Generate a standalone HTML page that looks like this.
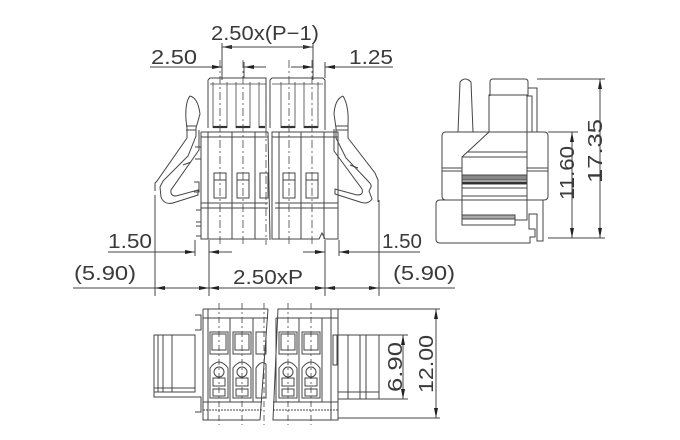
<!DOCTYPE html>
<html><head><meta charset="utf-8"><style>
html,body{margin:0;padding:0;background:#fff;}
svg{display:block;}
text{font-family:"Liberation Sans",sans-serif;fill:#3a3a3a;font-size:20px;}
</style></head><body>
<svg width="680" height="440" viewBox="0 0 680 440" xmlns="http://www.w3.org/2000/svg">
<defs>
<marker id="a" markerWidth="10" markerHeight="6" refX="10" refY="3" orient="auto" markerUnits="userSpaceOnUse"><path d="M0,1 L10,3 L0,5z" fill="#222"/></marker>
</defs>
<g stroke="#444" stroke-width="1" fill="none">
<!-- ===== top dimensions ===== -->
<line x1="222" y1="43" x2="222" y2="80"/><line x1="313" y1="43" x2="313" y2="80"/>
<line x1="240" y1="47" x2="222" y2="47" marker-end="url(#a)"/><line x1="295" y1="47" x2="313" y2="47" marker-end="url(#a)"/>
<line x1="222" y1="47" x2="313" y2="47"/>
<line x1="150" y1="67" x2="222" y2="67" marker-end="url(#a)"/>
<line x1="244" y1="62" x2="244" y2="78"/>
<line x1="266" y1="67" x2="244" y2="67" marker-end="url(#a)"/>
<line x1="291" y1="67" x2="313" y2="67" marker-end="url(#a)"/>
<line x1="325" y1="62" x2="325" y2="78"/>
<line x1="393" y1="67" x2="325" y2="67" marker-end="url(#a)"/>
<!-- ===== front view ===== -->
<path d="M208,80 l2,-2 h56 v50 M270,128 v-48 l2,-2 h51 l2,2 v50"/>
<path d="M208,80 v48 M325,80 v48"/>
<g stroke-width="0.8">
<line x1="213" y1="82" x2="213" y2="128"/><line x1="227" y1="82" x2="227" y2="128"/>
<line x1="236" y1="82" x2="236" y2="128"/><line x1="250" y1="82" x2="250" y2="128"/>
<line x1="259" y1="82" x2="259" y2="128"/>
<line x1="281" y1="82" x2="281" y2="128"/><line x1="295" y1="82" x2="295" y2="128"/>
<line x1="304" y1="82" x2="304" y2="128"/><line x1="318" y1="82" x2="318" y2="128"/>
<path d="M210,84 h56 M272,84 h51"/>
</g>
<g stroke-width="2.2" stroke="#333">
<line x1="213" y1="127" x2="227" y2="127"/><line x1="236" y1="127" x2="250" y2="127"/><line x1="259" y1="127" x2="265" y2="127"/>
<line x1="281" y1="127" x2="295" y2="127"/><line x1="304" y1="127" x2="318" y2="127"/>
</g>
<!-- body -->
<path d="M201,132 h67 M268,132 l2,108 M201,132 v107 h67"/>
<path d="M272,132 h66 v107 h-13 l-3,-6 l-3,6 h-47 z"/>
<line x1="201" y1="137" x2="268" y2="137"/><line x1="272" y1="137" x2="338" y2="137"/>
<line x1="201" y1="203" x2="268" y2="203"/><line x1="275" y1="203" x2="338" y2="203"/>
<line x1="201" y1="208" x2="268" y2="208"/><line x1="275" y1="208" x2="338" y2="208"/>
<line x1="208" y1="132" x2="208" y2="239"/>
<line x1="232" y1="132" x2="232" y2="239"/><line x1="255" y1="132" x2="255" y2="239"/>
<line x1="279" y1="132" x2="279" y2="239"/><line x1="301" y1="132" x2="301" y2="239"/>
<line x1="324" y1="132" x2="324" y2="239"/>
<rect x="214" y="173" width="12" height="25"/><rect x="237" y="173" width="12" height="25"/><rect x="260" y="173" width="8" height="25"/>
<rect x="283" y="173" width="12" height="25"/><rect x="306" y="173" width="12" height="25"/>
<line x1="214" y1="180" x2="226" y2="180"/><line x1="237" y1="180" x2="249" y2="180"/><line x1="283" y1="180" x2="295" y2="180"/><line x1="306" y1="180" x2="318" y2="180"/>
<g stroke-dasharray="8,3,2,3" stroke-width="0.8">
<line x1="220" y1="60" x2="220" y2="245"/><line x1="243" y1="60" x2="243" y2="245"/><line x1="266" y1="80" x2="266" y2="245"/>
<line x1="289" y1="60" x2="289" y2="245"/><line x1="312" y1="60" x2="312" y2="245"/>
</g>
<!-- left arm -->
<path d="M190,96 q8,2 10,18 l-4,14 v8 l-8,20 l-25,25 l-3,6 l1,10 q3,8 12,6 l25,-8 v-5 l-22,6 q-6,0 -5,-6 l28,-40 v-20"/>
<path d="M190,96 q-5,6 -4,24 l1,8 v10 l-30,43 l-2,2 v8"/>
<path d="M186,126 h10 M186,130 h10 M183,165 l8,-3"/>
<path d="M195,147 h6 v12 h-6 M194,182 h5 v10 h-5 M196,210 h5 v12 h-5 M196,226 h5 v10 h-5"/>
<!-- right arm -->
<path d="M343,96 q-8,3 -9,18 l2,14 v10 l10,20 l22,23 q4,4 3,6 l-2,4 l3,8 q-4,6 -12,3 l-25,-8 v-5 l22,6 q7,0 5,-6 l-28,-38 v-22"/>
<path d="M343,96 q6,10 5,28 v14 l27,35 l3,7 v22"/>
<path d="M336,126 h12 M336,130 h12 M350,165 l8,3"/>
<!-- bottom dims -->
<line x1="155" y1="195" x2="155" y2="296"/><line x1="209" y1="240" x2="209" y2="296"/>
<line x1="325" y1="240" x2="325" y2="296"/><line x1="379" y1="200" x2="379" y2="296"/>
<line x1="195" y1="240" x2="195" y2="256"/><line x1="339" y1="240" x2="339" y2="256"/>
<line x1="108" y1="252" x2="195" y2="252" marker-end="url(#a)"/>
<line x1="232" y1="252" x2="209" y2="252" marker-end="url(#a)"/>
<line x1="303" y1="252" x2="325" y2="252" marker-end="url(#a)"/>
<line x1="420" y1="252" x2="339" y2="252" marker-end="url(#a)"/>
<line x1="73" y1="288" x2="455" y2="288"/>
<line x1="180" y1="288" x2="155" y2="288" marker-end="url(#a)"/><line x1="185" y1="288" x2="209" y2="288" marker-end="url(#a)"/>
<line x1="230" y1="288" x2="209" y2="288" marker-end="url(#a)"/><line x1="300" y1="288" x2="325" y2="288" marker-end="url(#a)"/>
<line x1="350" y1="288" x2="325" y2="288" marker-end="url(#a)"/><line x1="355" y1="288" x2="379" y2="288" marker-end="url(#a)"/>
<!-- ===== side view ===== -->
<path d="M458,132 l2,-50 q5,-6 11,0 l2,50"/>
<path d="M490,96 v-14 q0,-3 3,-3 h32 q3,0 3,3 v6 h9 v44"/>
<path d="M528,88 v8 h4 v36"/>
<path d="M489,132 v-37 h38 v37"/>
<path d="M446,132 h98 q4,0 4,4 v60 q0,4 -4,4 h-98 q-4,0 -4,-4 v-60 q0,-4 4,-4z"/>
<path d="M440,200 h90 M440,200 q-4,0 -4,4 v35 q0,4 4,4 h90 v-6 h5 v-8 h-6 v-15 h8 v27 h6 v-41"/>
<path d="M489,132 l-27,25 v68 h53 v-5 h12 v-88"/>
<line x1="462" y1="157" x2="527" y2="157"/><line x1="468" y1="152" x2="527" y2="152"/>
<line x1="442" y1="168" x2="462" y2="168"/><line x1="527" y1="168" x2="548" y2="168"/>
<line x1="442" y1="171" x2="462" y2="171"/><line x1="527" y1="171" x2="548" y2="171"/>
<rect x="462" y="175" width="65" height="5" fill="#888"/>
<rect x="462" y="182" width="65" height="2" fill="#222"/>
<line x1="462" y1="188" x2="527" y2="188"/><line x1="462" y1="196" x2="527" y2="196"/>
<rect x="462" y="215" width="53" height="4" fill="#aaa"/>
<line x1="537" y1="79" x2="605" y2="79"/><line x1="548" y1="132" x2="578" y2="132"/>
<line x1="548" y1="238" x2="605" y2="238"/>
<line x1="572" y1="185" x2="572" y2="132" marker-end="url(#a)"/><line x1="572" y1="185" x2="572" y2="238" marker-end="url(#a)"/>
<line x1="600" y1="160" x2="600" y2="79" marker-end="url(#a)"/><line x1="600" y1="160" x2="600" y2="238" marker-end="url(#a)"/>
<!-- ===== bottom view ===== -->
<path d="M203,309 h65 M268,309 l-8,111 M203,309 v111 h57"/>
<path d="M278,309 h60 v111 h-65 z"/>
<line x1="208" y1="309" x2="208" y2="420"/><line x1="331" y1="309" x2="331" y2="420"/>
<line x1="203" y1="318" x2="268" y2="318"/><line x1="276" y1="318" x2="338" y2="318"/>
<line x1="203" y1="402" x2="262" y2="402"/><line x1="273" y1="402" x2="338" y2="402"/>
<line x1="203" y1="410" x2="262" y2="410" stroke-dasharray="2,1"/><line x1="273" y1="410" x2="338" y2="410" stroke-dasharray="2,1"/>
<line x1="230" y1="318" x2="230" y2="402"/><line x1="253" y1="318" x2="253" y2="402"/>
<line x1="276" y1="318" x2="276" y2="402"/><line x1="299" y1="318" x2="299" y2="402"/><line x1="322" y1="318" x2="322" y2="402"/>
<g id="cell">
<rect x="210" y="332" width="18" height="22"/><rect x="212" y="334" width="14" height="16"/>
<path d="M210,368 q9,-12 18,0 v30 h-18 z"/>
<circle cx="219" cy="372" r="5"/><rect x="213" y="378" width="12" height="8"/><rect x="213" y="389" width="12" height="7"/>
</g>
<use href="#cell" x="23"/><use href="#cell" x="69"/><use href="#cell" x="92"/>
<rect x="256" y="332" width="10" height="22"/><path d="M256,368 q5,-8 10,-4 v34 h-10z"/>
<rect x="333" y="335" width="4" height="30"/>
<g stroke-dasharray="6,3,2,3" stroke-width="0.8">
<line x1="219" y1="303" x2="219" y2="425"/><line x1="242" y1="303" x2="242" y2="425"/><line x1="264" y1="303" x2="264" y2="425"/>
<line x1="288" y1="303" x2="288" y2="425"/><line x1="311" y1="303" x2="311" y2="425"/>
</g>
<rect x="154" y="335" width="41" height="57"/>
<line x1="158" y1="335" x2="158" y2="392"/><line x1="163" y1="335" x2="163" y2="392"/><line x1="172" y1="335" x2="172" y2="392"/>
<line x1="154" y1="388" x2="195" y2="388"/>
<path d="M154,392 v5 h41 M195,315 h6 v15 h-6 M195,397 h6 v15 h-6"/>
<rect x="338" y="335" width="41" height="64"/>
<line x1="348" y1="335" x2="348" y2="399"/><line x1="360" y1="335" x2="360" y2="399"/><line x1="366" y1="335" x2="366" y2="399"/>
<line x1="338" y1="392" x2="379" y2="392"/>
<line x1="338" y1="309" x2="440" y2="309"/><line x1="338" y1="418" x2="440" y2="418"/>
<line x1="379" y1="335" x2="408" y2="335"/><line x1="379" y1="399" x2="408" y2="399"/>
<line x1="403" y1="367" x2="403" y2="335" marker-end="url(#a)"/><line x1="403" y1="367" x2="403" y2="399" marker-end="url(#a)"/>
<line x1="436" y1="364" x2="436" y2="309" marker-end="url(#a)"/><line x1="436" y1="364" x2="436" y2="418" marker-end="url(#a)"/>
</g>
<!-- text -->
<text x="211" y="40" textLength="108" lengthAdjust="spacingAndGlyphs">2.50x(P−1)</text>
<text x="151" y="64" textLength="46" lengthAdjust="spacingAndGlyphs">2.50</text>
<text x="349" y="64" textLength="44" lengthAdjust="spacingAndGlyphs">1.25</text>
<text x="108" y="248" textLength="44" lengthAdjust="spacingAndGlyphs">1.50</text>
<text x="382" y="248" textLength="40" lengthAdjust="spacingAndGlyphs">1.50</text>
<text x="74" y="280" textLength="62" lengthAdjust="spacingAndGlyphs">(5.90)</text>
<text x="233" y="284" textLength="70" lengthAdjust="spacingAndGlyphs">2.50xP</text>
<text x="393" y="280" textLength="62" lengthAdjust="spacingAndGlyphs">(5.90)</text>
<text transform="translate(574,200) rotate(-90)" textLength="54" lengthAdjust="spacingAndGlyphs">11.60</text>
<text transform="translate(602,183) rotate(-90)" textLength="64" lengthAdjust="spacingAndGlyphs">17.35</text>
<text transform="translate(402,392) rotate(-90)" textLength="50" lengthAdjust="spacingAndGlyphs">6.90</text>
<text transform="translate(433,393) rotate(-90)" textLength="58" lengthAdjust="spacingAndGlyphs">12.00</text>
</svg>
</body></html>
